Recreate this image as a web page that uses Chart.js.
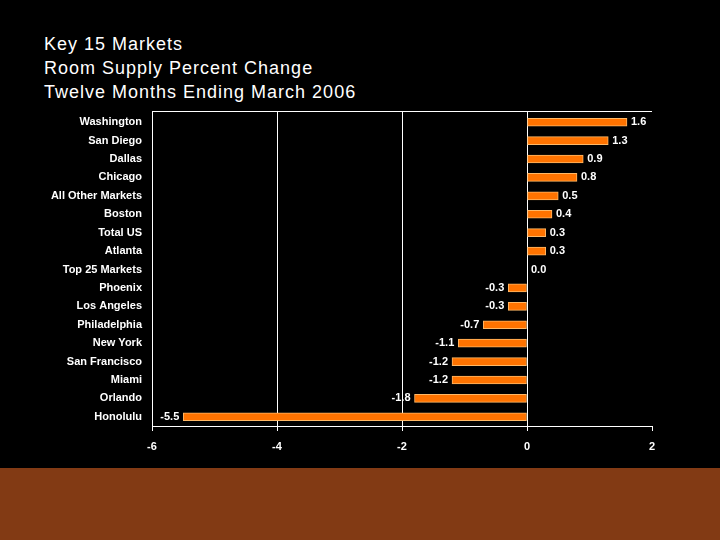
<!DOCTYPE html>
<html>
<head>
<meta charset="utf-8">
<script src="https://cdn.jsdelivr.net/npm/chart.js@4"></script>
<style>
  html, body { margin: 0; padding: 0; background: #000; }
  #wrap { position: relative; width: 720px; height: 540px; overflow: hidden; background: #000; }
  #band { position: absolute; left: 0; top: 468px; width: 720px; height: 72px; background: #823a14; }
  #title { position: absolute; left: 44px; top: 32px; color: #fff; font: 18px "Liberation Sans", Arial, sans-serif; line-height: 24px; letter-spacing: 1px; }
  canvas { position: absolute; left: 0; top: 0; }
</style>
</head>
<body>
<div id="wrap">
  <div id="band"></div>
  <div id="title">Key 15 Markets<br>Room Supply Percent Change<br>Twelve Months Ending March 2006</div>
  <canvas id="chart" width="720" height="540"></canvas>
</div>
<script>
"use strict";

// markets, top to bottom
const markets = ["Washington", "San Diego", "Dallas", "Chicago", "All Other Markets", "Boston",
  "Total US", "Atlanta", "Top 25 Markets", "Phoenix", "Los Angeles", "Philadelphia",
  "New York", "San Francisco", "Miami", "Orlando", "Honolulu"];

// percent change in room supply
const supplyChange = [1.6, 1.3, 0.9, 0.8, 0.5, 0.4, 0.3, 0.3, 0.0, -0.3, -0.3, -0.7,
  -1.1, -1.2, -1.2, -1.8, -5.5];

// x axis ticks
const xTicks = [-6, -4, -2, 0, 2];

const labelFont = 'bold 11px "Liberation Sans", Arial, sans-serif';

// draws the values next to the bars and the top line of the frame
const valueLabels = {
    id: 'valueLabels',
    afterDatasetsDraw(chart) {
        const c = chart.ctx;
        const area = chart.chartArea;
        c.save();
        c.strokeStyle = '#fff';
        c.lineWidth = 1;
        c.beginPath();
        c.moveTo(area.left, area.top - 1.5);
        c.lineTo(area.right, area.top - 1.5);
        c.moveTo(area.left + 0.5, area.top - 2);
        c.lineTo(area.left + 0.5, area.top);
        [-4, -2, 0].forEach(v => {
            const x = Math.round(chart.scales.x.getPixelForValue(v)) + 0.5;
            c.moveTo(x, area.top - 2);
            c.lineTo(x, area.top);
        });
        c.stroke();

        c.font = labelFont;
        c.fillStyle = '#fff';
        c.textBaseline = 'middle';
        const meta = chart.getDatasetMeta(0);
        meta.data.forEach((bar, i) => {
            const v = supplyChange[i];
            if (v < 0) {
                c.textAlign = 'right';
                c.fillText(v.toFixed(1), bar.x - 4, bar.y);
            } else {
                c.textAlign = 'left';
                c.fillText(v.toFixed(1), bar.x + 4, bar.y);
            }
        });
        c.restore();
    }
};

Chart.defaults.font.family = '"Liberation Sans", Arial, sans-serif';

new Chart(document.getElementById('chart'), {
    type: 'bar',
    data: {
        labels: markets,
        datasets: [{
            data: supplyChange,
            backgroundColor: '#ff7300',
            borderColor: '#ffb866',
            borderWidth: 1,
            borderSkipped: false,
            barThickness: 8
        }]
    },
    options: {
        indexAxis: 'y',
        responsive: false,
        animation: false,
        devicePixelRatio: 1,
        layout: {
            padding: { left: 0, right: 68, top: 113, bottom: 74 }
        },
        scales: {
            x: {
                min: xTicks[0],
                max: xTicks[xTicks.length - 1],
                afterBuildTicks: (s) => { s.ticks = xTicks.map(v => ({ value: v })); },
                afterFit: (s) => { s.height = 40; },
                grid: {
                    color: (ctx) => (ctx.tick && (ctx.tick.value === -4 || ctx.tick.value === -2 || ctx.tick.value === 0)) ? '#fff' : 'rgba(0,0,0,0)',
                    tickColor: '#fff',
                    tickLength: 5,
                    lineWidth: 1
                },
                border: { color: '#fff', width: 1 },
                ticks: {
                    color: '#fff',
                    padding: 9,
                    font: { size: 11, weight: 'bold' }
                }
            },
            y: {
                afterFit: (s) => { s.width = 152; },
                grid: { display: false, drawTicks: false },
                border: { color: '#fff', width: 1 },
                ticks: {
                    color: '#fff',
                    padding: 10,
                    autoSkip: false,
                    font: { size: 11, weight: 'bold' }
                }
            }
        },
        plugins: {
            legend: { display: false },
            tooltip: { enabled: false }
        }
    },
    plugins: [valueLabels]
});
</script>
</body>
</html>
